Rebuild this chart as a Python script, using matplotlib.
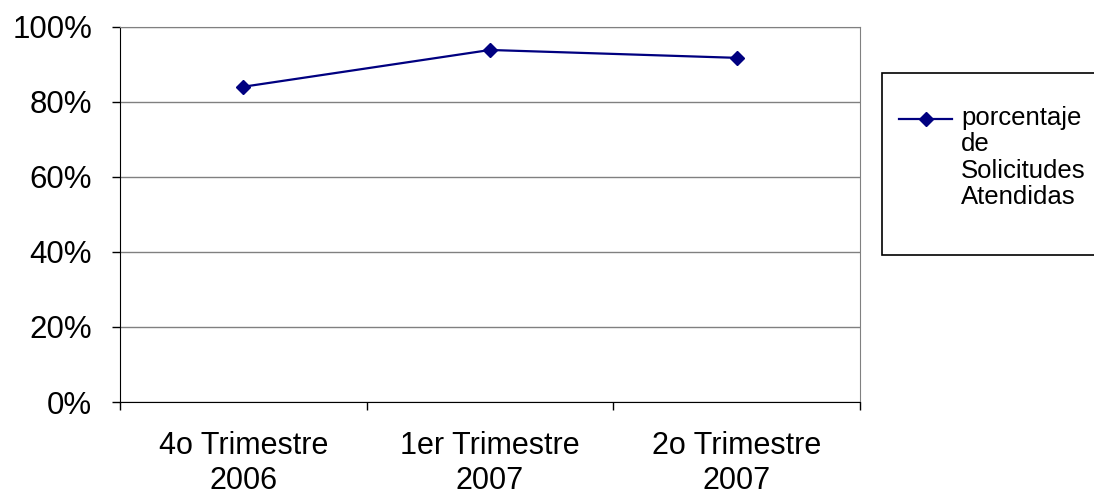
import matplotlib
matplotlib.use("Agg")
import matplotlib.pyplot as plt
from matplotlib.lines import Line2D
from matplotlib.patches import Rectangle
from matplotlib.ticker import PercentFormatter

# data
categories = ["4o Trimestre\n2006", "1er Trimestre\n2007", "2o Trimestre\n2007"]
porcentaje = [84, 93.8, 91.7]
y_ticks = [0, 20, 40, 60, 80, 100]
legend_label = "porcentaje\nde\nSolicitudes\nAtendidas"

plt.rcParams['font.family'] = ['Liberation Sans', 'DejaVu Sans']

W, H = 1094, 500
fig = plt.figure(figsize=(W / 100, H / 100), dpi=100)
ax = fig.add_axes([120 / W, 1 - 402 / H, 740 / W, (402 - 26.7) / H])

line_color = '#000080'
x = range(len(categories))
ax.plot(x, porcentaje, color=line_color, lw=1.6, marker='D', ms=7,
        markerfacecolor=line_color, markeredgecolor=line_color, zorder=3)

ax.set_xlim(-0.5, len(categories) - 0.5)
ax.set_ylim(0, 100)
ax.set_yticks(y_ticks)
ax.yaxis.set_major_formatter(PercentFormatter(decimals=0))
ax.yaxis.grid(True, color='#808080', lw=1.0)
ax.set_axisbelow(True)

# category boundaries as tick marks, labels in the middle
ax.set_xticks([i - 0.5 for i in range(len(categories) + 1)])
ax.set_xticklabels([])
ax.set_xticks(list(x), minor=True)
ax.set_xticklabels(categories, minor=True, fontsize=22, linespacing=1.2)
ax.tick_params(axis='x', which='major', direction='out', length=6, width=1, color='black')
ax.tick_params(axis='x', which='minor', length=0, pad=21)
ax.tick_params(axis='y', direction='out', length=6, width=1, color='black',
               labelsize=22.5, pad=14)

for side in ['top', 'right']:
    ax.spines[side].set_color('#808080')
for side in ['left', 'bottom']:
    ax.spines[side].set_color('black')

# legend box drawn by hand
fig.patches.append(Rectangle((882 / W, 1 - 255 / H), 0.3, (255 - 73) / H,
                             transform=fig.transFigure, facecolor='white',
                             edgecolor='black', lw=1.2))
fig.lines.append(Line2D([899 / W, 952 / W], [1 - 119 / H, 1 - 119 / H],
                        transform=fig.transFigure, color=line_color, lw=1.6,
                        zorder=5))
fig.lines.append(Line2D([926 / W], [1 - 119 / H], transform=fig.transFigure,
                        color=line_color, marker='D', ms=7, zorder=5))
fig.text(961 / W, 1 - 106 / H, legend_label, fontsize=18.5, va='top', ha='left',
         linespacing=1.12)

fig.savefig('out.png', dpi=100)
